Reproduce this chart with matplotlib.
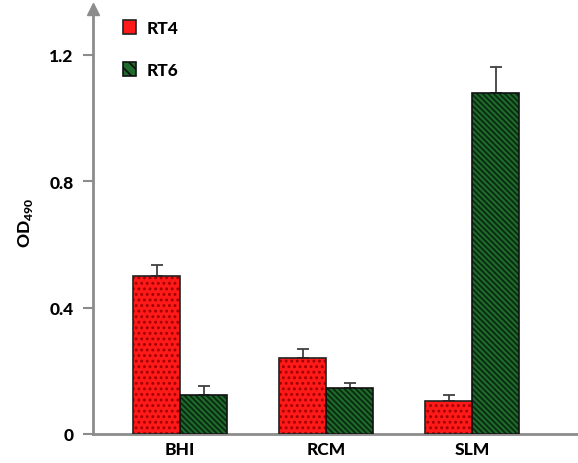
import matplotlib
matplotlib.use("Agg")
import matplotlib.pyplot as plt
import numpy as np
from matplotlib.patches import Patch

categories = ["BHI", "RCM", "SLM"]
rt4 = [0.50, 0.24, 0.105]
rt4_err = [0.035, 0.03, 0.02]
rt6 = [0.123, 0.145, 1.08]
rt6_err = [0.03, 0.015, 0.08]
yticks = [0, 0.4, 0.8, 1.2]
ytick_labels = ["0", "0.4", "0.8", "1.2"]

plt.rcParams['font.family'] = ['Lato', 'DejaVu Sans']
plt.rcParams['mathtext.fontset'] = 'custom'
plt.rcParams['mathtext.rm'] = 'Lato'
plt.rcParams['mathtext.bf'] = 'Lato:black'
plt.rcParams['hatch.linewidth'] = 1.3

W = "black"
fig = plt.figure(figsize=(5.78, 4.64), dpi=100)
ax = fig.add_axes([93/578, 1-435/464, 1-93/578, (435-10)/464])

x = np.arange(len(categories))
w = 0.322
axis_gray = "#8c8c8c"
red = "#ff1a1a"
green = "#1e6b2c"

ax.bar(x - w/2, rt4, w, color=red, linewidth=0, zorder=2)
ax.bar(x + w/2, rt6, w, color=green, linewidth=0, zorder=2)
ax.bar(x - w/2, rt4, w, facecolor="none", edgecolor="#a00000", linewidth=0,
       hatch="...", zorder=3)
ax.bar(x + w/2, rt6, w, facecolor="none", edgecolor="#0a2a10", linewidth=0,
       hatch="\\\\\\\\\\\\", zorder=3)
ax.bar(x - w/2, rt4, w, fill=False, edgecolor="#222222", linewidth=1.2, zorder=4)
ax.bar(x + w/2, rt6, w, fill=False, edgecolor="#111111", linewidth=1.2, zorder=4)

ax.errorbar(x - w/2, rt4, yerr=[np.zeros(3), rt4_err], fmt="none", ecolor="#404040",
            elinewidth=1.3, capsize=4, capthick=1.3, zorder=1)
ax.errorbar(x + w/2, rt6, yerr=[np.zeros(3), rt6_err], fmt="none", ecolor="#404040",
            elinewidth=1.3, capsize=4, capthick=1.3, zorder=1)

ax.set_xlim(-0.596, 2.726)
ax.set_ylim(0, 1.345)
ax.set_yticks(yticks)
ax.set_yticklabels(ytick_labels, fontsize=12.5, fontweight=W)
ax.set_xticks(x)
ax.set_xticklabels(categories, fontsize=12.5, fontweight=W)
ax.tick_params(axis="x", length=0, pad=5)
ax.tick_params(axis="y", length=7, width=1.5, color=axis_gray, pad=7)

for s in ["top", "right"]:
    ax.spines[s].set_visible(False)
for s in ["left", "bottom"]:
    ax.spines[s].set_color(axis_gray)
    ax.spines[s].set_linewidth(2)

ax.plot([0], [1], marker="^", color=axis_gray, markersize=8, transform=ax.transAxes,
        clip_on=False)

ax.set_ylabel("OD$_{\\mathbf{490}}$", fontsize=12.5, fontweight=W, labelpad=10)

h1 = Patch(facecolor=red, edgecolor="#222222", linewidth=1.2)
h2 = Patch(facecolor=green, edgecolor="#111111", hatch="\\\\\\", linewidth=1.2)
leg = ax.legend([h1, h2], ["RT4", "RT6"], loc="upper left", bbox_to_anchor=(0.03, 1.012),
                frameon=False, prop={"weight": W, "size": 12.5},
                handlelength=0.75, handleheight=0.9, labelspacing=1.5, handletextpad=0.6)

fig.savefig("out.png", dpi=100)
